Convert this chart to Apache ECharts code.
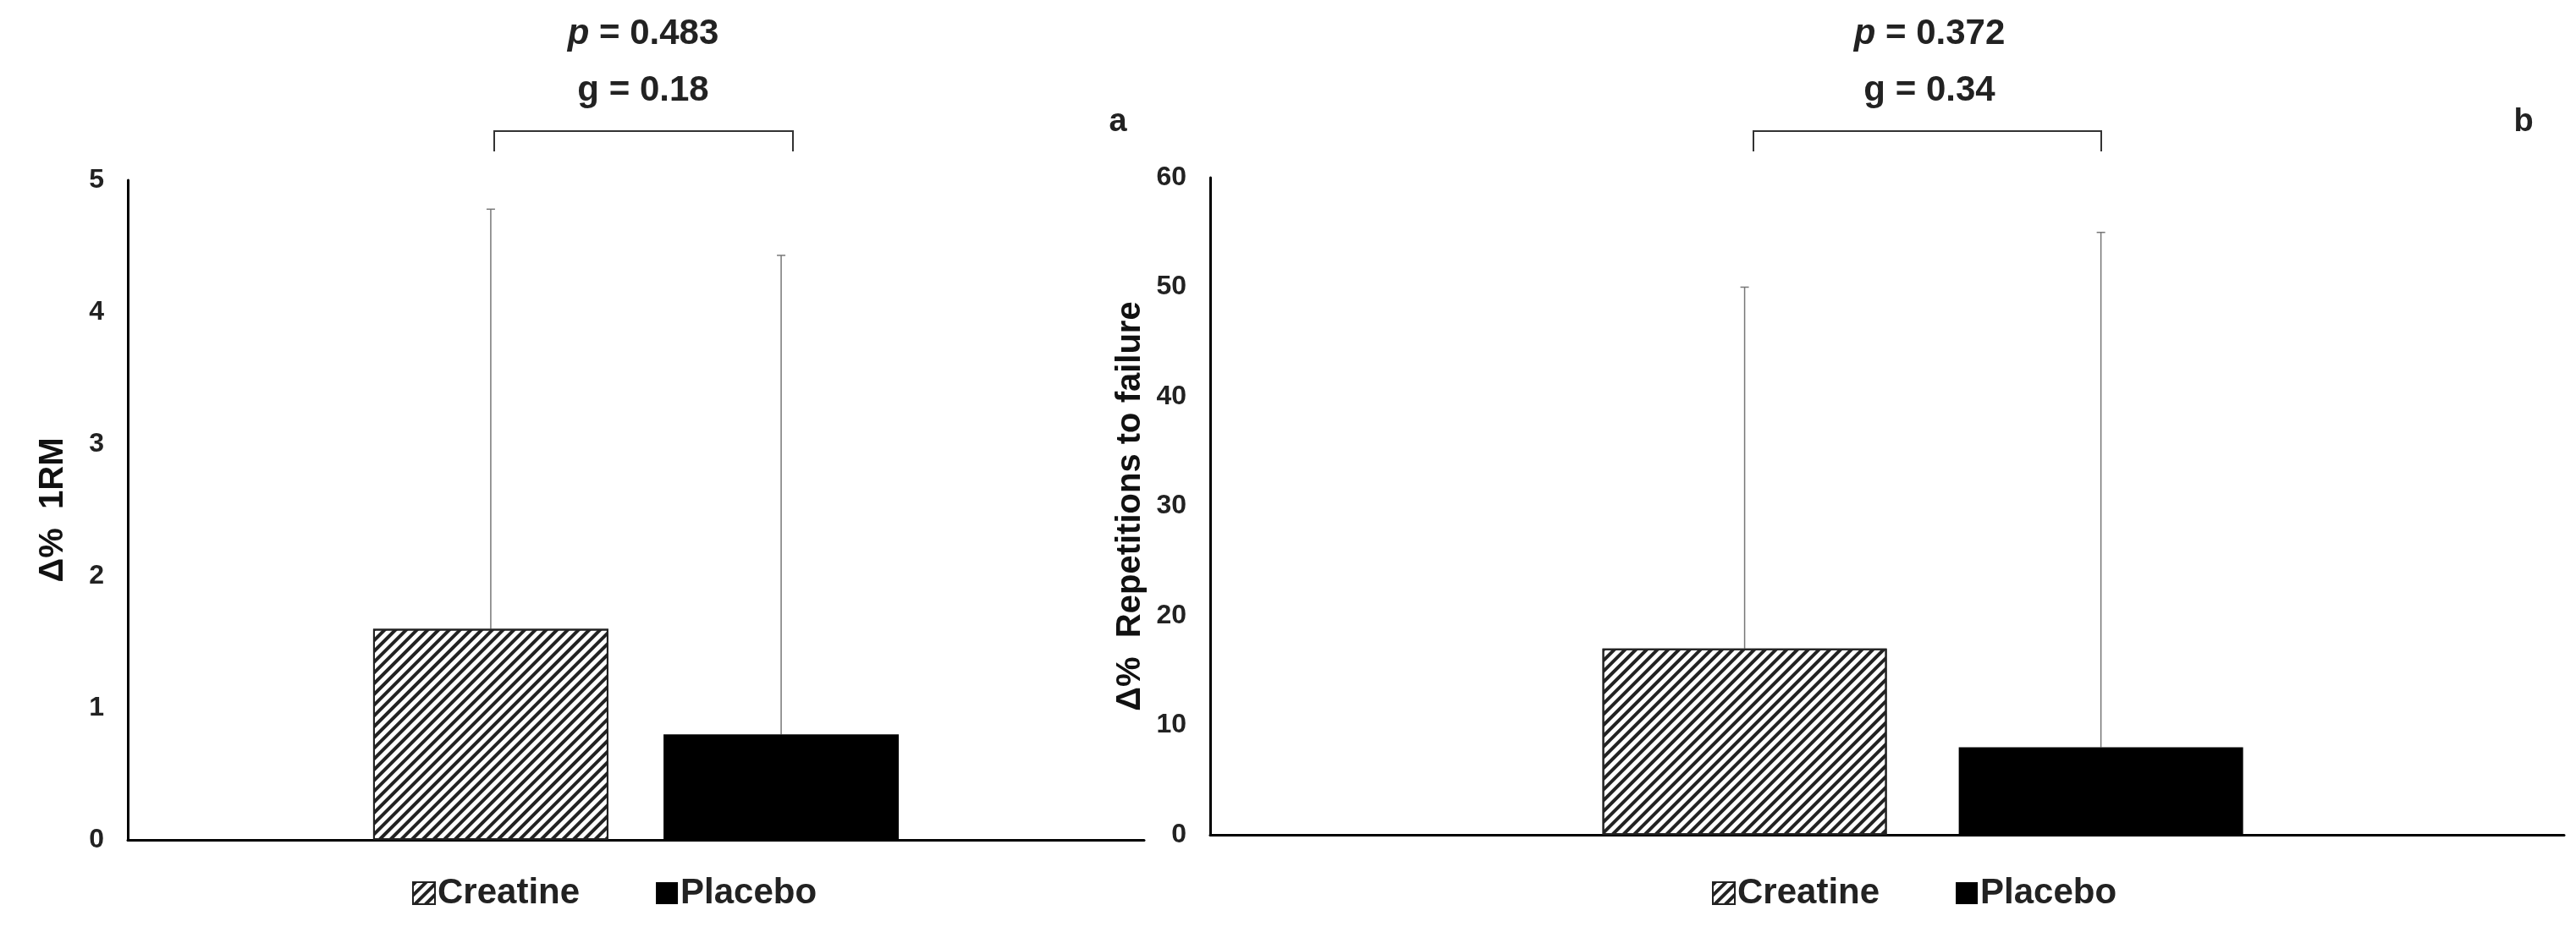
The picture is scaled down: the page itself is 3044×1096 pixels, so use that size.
<!DOCTYPE html><html><head><meta charset="utf-8"><script src="https://cdn.jsdelivr.net/npm/echarts@6/dist/echarts.min.js"></script>
<style>html,body{margin:0;background:#fff}#c{width:3044px;height:1096px}</style></head><body><div id="c"></div><script>
const groups = ['Creatine','Placebo'];
const rmMean = [1.6, 0.8];
const rmSD = [3.18, 3.63];
const repMean = [17, 8];
const repSD = [33, 47];
const aSlots = ['','','Creatine','','Placebo','',''];
const bSlots = ['','','','','','','','Creatine','','','','','Placebo','','','','','',''];
const aIdx = [2,4], bIdx = [7,12];
const aTicks = [0,1,2,3,4,5], bTicks = [0,10,20,30,40,50,60];
const FN = "'Liberation Sans Narrow','Liberation Sans',Arial";
const hatch = {symbol:'rect',dashArrayX:[1,0],dashArrayY:[4,5],rotation:-Math.PI/4,color:'#222',symbolSize:1};
const c = echarts.init(document.getElementById('c'));
function barSeries(gi, slots, idx, means){
  return groups.map((g,k)=>({
    type:'bar', name:g, xAxisIndex:gi, yAxisIndex:gi, barWidth: gi===0?278:336, barGap:'-100%',
    data: slots.map((s,i)=> i===idx[k]? means[k] : null),
    itemStyle: k===0 ? {color:'#fff',borderColor:'#222',borderWidth:2,decal:hatch} : {color:'#000'}
  }));
}
function errSeries(gi, idx, means, sds){
  return {type:'custom', xAxisIndex:gi, yAxisIndex:gi, z:1,
    data: idx.map((x,k)=>[x, means[k], means[k]+sds[k]]),
    renderItem:(p,api)=>{const a=api.coord([api.value(0),api.value(1)]), b=api.coord([api.value(0),api.value(2)]);
      return {type:'group',children:[
        {type:'line',shape:{x1:a[0],y1:a[1],x2:b[0],y2:b[1]},style:{stroke:'#777',lineWidth:1.5}},
        {type:'line',shape:{x1:b[0]-5,y1:b[1],x2:b[0]+5,y2:b[1]},style:{stroke:'#777',lineWidth:1.5}}]};}};
}
function yAx(gi, ticks, name, nameGap){
  return {type:'value', gridIndex:gi, min:ticks[0], max:ticks[ticks.length-1], interval:ticks[1]-ticks[0],
    splitLine:{show:false}, axisLine:{show:true,lineStyle:{color:'#000',width:3}}, axisTick:{show:false},
    axisLabel:{color:'#222',fontFamily:FN,fontWeight:'bold',fontSize:32,margin:28},
    name:name, nameLocation:'middle', nameGap:nameGap, nameTextStyle:{color:'#111',fontFamily:'Liberation Sans',fontWeight:'bold',fontSize:40}};
}
function xAx(gi, slots){
  return {type:'category', gridIndex:gi, data:slots, axisLine:{lineStyle:{color:'#000',width:3}}, axisTick:{show:false}, axisLabel:{show:false}};
}
function bracket(x1,x2,y,cx,p,g,lab,lx){
  return [
    {type:'polyline',shape:{points:[[x1,y+24],[x1,y],[x2,y],[x2,y+24]]},style:{stroke:'#333',lineWidth:2,fill:null}},
    {type:'text',x:cx,y:40,style:{text:'{i|p} = '+p,rich:{i:{fontStyle:'italic',fontFamily:FN,fontWeight:'bold',fontSize:42,fill:'#222'}},fontFamily:FN,fontWeight:'bold',fontSize:42,fill:'#222',align:'center',verticalAlign:'middle'}},
    {type:'text',x:cx,y:107,style:{text:'g = '+g,fontFamily:FN,fontWeight:'bold',fontSize:42,fill:'#222',align:'center',verticalAlign:'middle'}},
    {type:'text',x:lx,y:145,style:{text:lab,fontFamily:FN,fontWeight:'bold',fontSize:38,fill:'#222',align:'center',verticalAlign:'middle'}}
  ];
}
const legStyle = {icon:'rect',itemWidth:26,itemHeight:26,itemGap:90,textStyle:{fontFamily:FN,fontWeight:'bold',fontSize:42,color:'#222',padding:[0,0,0,-2]},data:groups,selectedMode:false};
c.setOption({
  animation:false,
  grid:[{left:151,right:1692,top:213,bottom:103},{left:1430,right:14,top:210,bottom:109}],
  xAxis:[xAx(0,aSlots),xAx(1,bSlots)],
  yAxis:[yAx(0,aTicks,'Δ%  1RM',68),yAx(1,bTicks,'Δ%  Repetitions to failure',64)],
  legend:[Object.assign({left:482,top:1030},legStyle),Object.assign({left:2018,top:1030},legStyle)],
  series:[...barSeries(0,aSlots,aIdx,rmMean),...barSeries(1,bSlots,bIdx,repMean),errSeries(0,aIdx,rmMean,rmSD),errSeries(1,bIdx,repMean,repSD)],
  graphic:[...bracket(584,937,155,760,'0.483','0.18','a',1321),...bracket(2072,2483,155,2280,'0.372','0.34','b',2982)]
});
</script></body></html>
